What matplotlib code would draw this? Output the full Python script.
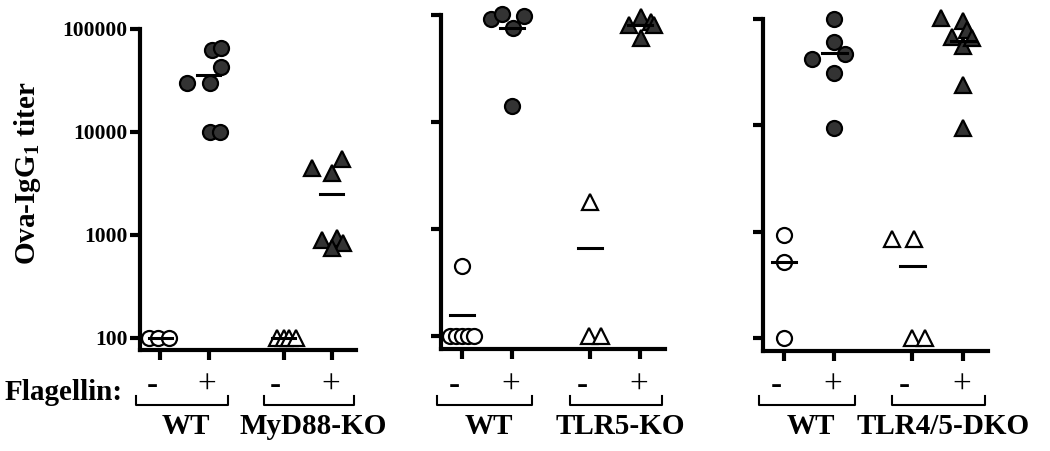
import numpy as np
import matplotlib
matplotlib.use("Agg")
import matplotlib.pyplot as plt
from matplotlib.transforms import blended_transform_factory

plt.rcParams['font.family'] = ['Liberation Serif', 'DejaVu Serif']
plt.rcParams['mathtext.fontset'] = 'custom'
plt.rcParams['mathtext.rm'] = 'Liberation Serif:bold'
plt.rcParams['mathtext.bf'] = 'Liberation Serif:bold'

# group names per panel and flagellin signs
groups = [["WT", "MyD88-KO"], ["WT", "TLR5-KO"], ["WT", "TLR4/5-DKO"]]
signs = ["-", "+", "-", "+"]
yticks = [100, 1000, 10000, 100000]

# panel 1: WT / MyD88-KO
p1_wt_neg = [100, 100, 100]
p1_wt_pos = [30000, 30000, 62000, 65000, 43000, 10000, 10000]
p1_ko_neg = [100, 100, 100, 100]
p1_ko_pos = [4500, 4000, 5500, 890, 930, 840, 750]
# panel 2: WT / TLR5-KO
p2_wt_neg = [100, 100, 100, 100, 100, 450]
p2_wt_pos = [92000, 102000, 76000, 97000, 14000]
p2_ko_neg = [1800, 100, 100]
p2_ko_pos = [81000, 96000, 86000, 81000, 61000]
# panel 3: WT / TLR4/5-DKO
p3_wt_neg = [930, 520, 100]
p3_wt_pos = [100000, 61000, 42000, 47000, 31000, 9500]
p3_ko_neg = [850, 850, 100, 100]
p3_ko_pos = [102000, 96000, 79000, 68000, 56000, 66000, 24000, 9500]

# horizontal scatter of the points (so they don't sit on top of each other)
p1_jit = [[-0.24, -0.04, 0.17],
          [-0.44, 0.02, 0.06, 0.25, 0.25, 0.02, 0.23],
          [-0.14, 0.0, 0.12, 0.25],
          [-0.41, 0.0, 0.22, -0.2, 0.1, 0.24, 0.0]]
p2_jit = [[-0.24, -0.12, 0.0, 0.12, 0.24, 0.0],
          [-0.43, -0.21, 0.01, 0.24, 0.0],
          [0.0, -0.02, 0.22],
          [-0.22, 0.02, 0.22, 0.28, 0.02]]
p3_jit = [[0.0, 0.0, 0.0],
          [0.0, 0.0, -0.44, 0.21, 0.0, 0.0],
          [-0.41, 0.02, 0.0, 0.24],
          [-0.43, 0.0, 0.08, -0.22, 0.0, 0.18, 0.0, 0.0]]

panels = [
    ([p1_wt_neg, p1_wt_pos, p1_ko_neg, p1_ko_pos], p1_jit),
    ([p2_wt_neg, p2_wt_pos, p2_ko_neg, p2_ko_pos], p2_jit),
    ([p3_wt_neg, p3_wt_pos, p3_ko_neg, p3_ko_pos], p3_jit),
]

W, H = 1050, 451
boxes = [(140, 356, 29, 350), (441, 665, 15, 349), (763, 988, 19, 351)]
xpos = [0, 1, 2.55, 3.55]
sign_shift = [-0.16, -0.03, -0.16, -0.03]
markers = ['o', 'o', '^', '^']
faces = ['white', '#333333', 'white', '#333333']
msize = [10.8, 10.8, 12, 12]

fig = plt.figure(figsize=(W / 100, H / 100), dpi=100)

for i, (data, jit) in enumerate(panels):
    x0, x1, y0, y1 = boxes[i]
    ax = fig.add_axes([x0 / W, (H - y1) / H, (x1 - x0) / W, (y1 - y0) / H])
    for k in range(4):
        vals = np.array(data[k])
        xs = xpos[k] + np.array(jit[k])
        ax.plot(xs, vals, linestyle='none', marker=markers[k], ms=msize[k],
                mfc=faces[k], mec='black', mew=1.6, zorder=3, clip_on=False)
        m = vals.mean()
        ax.plot([xpos[k] - 0.24, xpos[k] + 0.24], [m, m], color='black',
                lw=2.2, zorder=4, clip_on=False)

    ax.set_yscale('log')
    ax.set_ylim(76, 100000)
    ax.set_xlim(-0.42, 4.05)
    ax.set_yticks(yticks)
    ax.yaxis.set_minor_locator(matplotlib.ticker.NullLocator())
    ax.set_xticks(xpos)
    ax.set_xticklabels([])
    if i == 0:
        ax.set_yticklabels([str(t) for t in yticks], fontsize=15.5, fontweight='bold')
        ax.set_ylabel(r'Ova-IgG$_\mathbf{1}$ titer', fontsize=21, fontweight='bold')
        ax.yaxis.set_label_coords(-0.45, 0.55)
    else:
        ax.set_yticklabels([])
    for s in ['top', 'right']:
        ax.spines[s].set_visible(False)
    for s in ['left', 'bottom']:
        ax.spines[s].set_linewidth(3)
    ax.tick_params(direction='out', length=7, width=3, pad=2)

    tr = blended_transform_factory(ax.transData, fig.transFigure)
    for k in range(4):
        ax.text(xpos[k] + sign_shift[k], 1 - 386 / H, signs[k], transform=tr,
                ha='center', va='center', fontsize=24)
    for (a, b), name in zip([(-0.5, 1.4), (2.15, 4.0)], groups[i]):
        yb, yt = 1 - 405 / H, 1 - 396 / H
        ax.plot([a, a, b, b], [yt, yb, yb, yt], color='black', lw=1.5,
                transform=tr, clip_on=False)
        ax.text((a + b) / 2 + 0.08, 1 - 427 / H, name, transform=tr,
                ha='center', va='center', fontsize=21, fontweight='bold')

fig.text(5 / W, 1 - 393 / H, 'Flagellin:', ha='left', va='center',
         fontsize=21, fontweight='bold')

fig.savefig('out.png', dpi=100)
